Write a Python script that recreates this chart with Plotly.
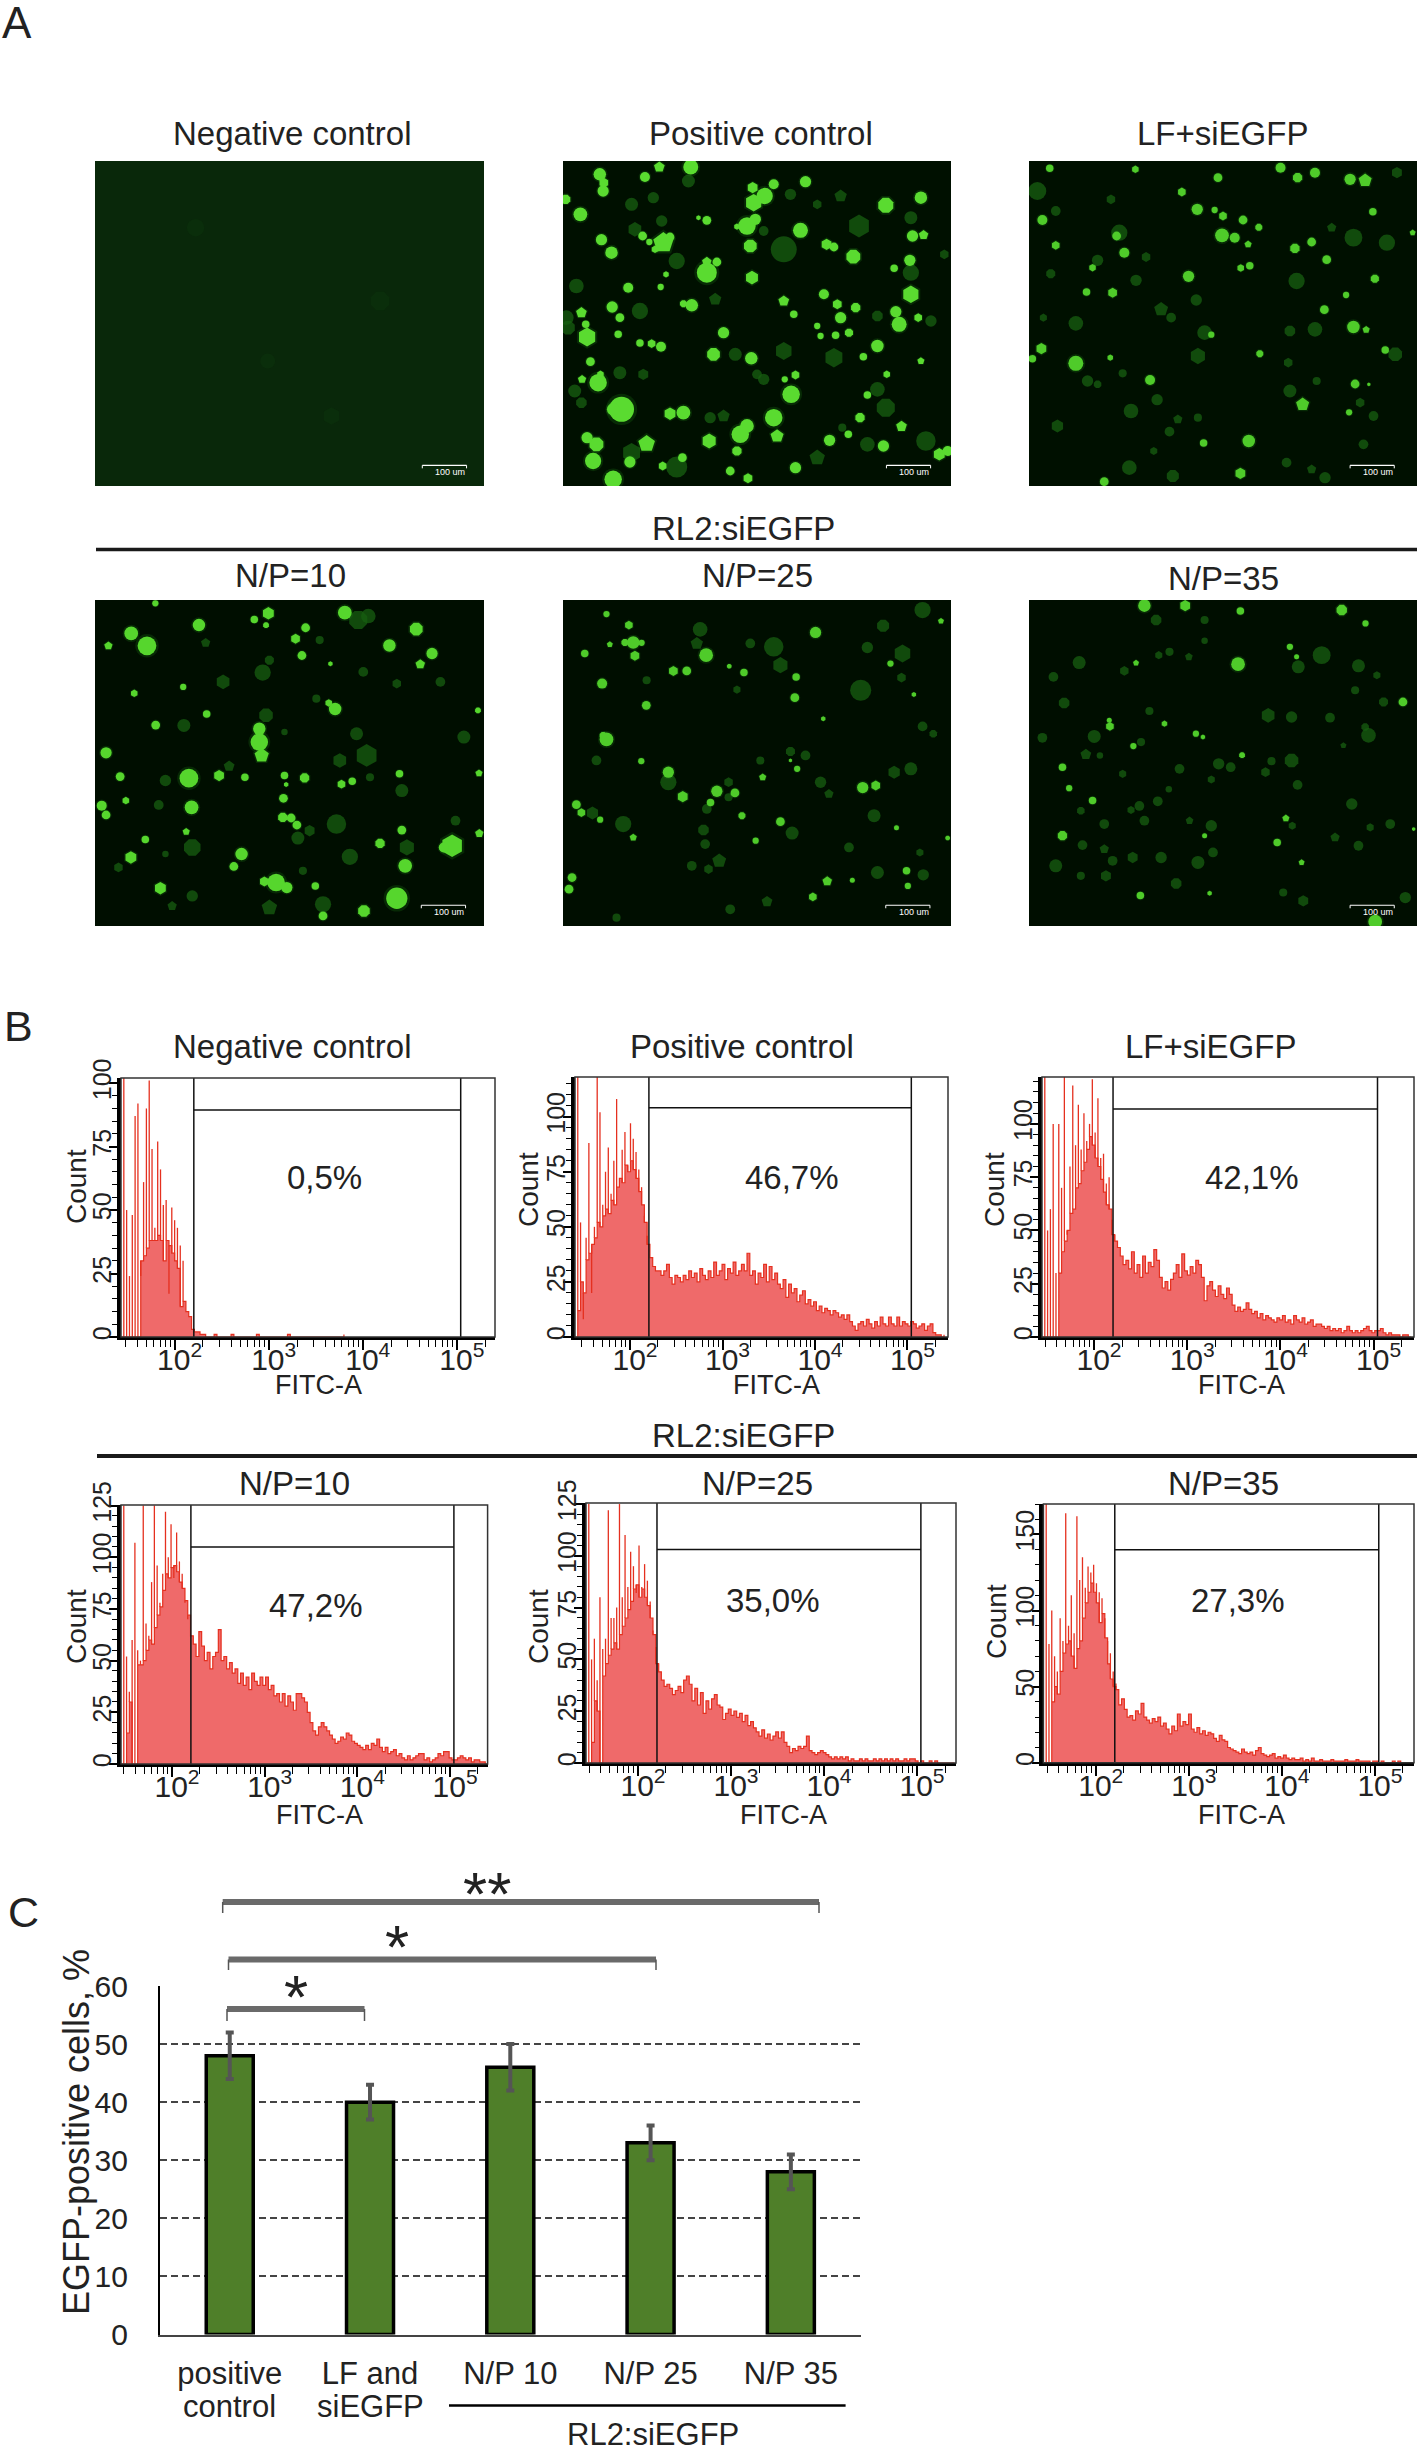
import plotly.graph_objects as go

W, H = 1417, 2452
FONT = "Liberation Sans"
TXT = "#222222"
CELL_SCALE = 1.25
CELL_SYMBOLS = ["circle", "hexagon", "circle", "octagon", "circle", "circle", "pentagon", "circle", "hexagon", "circle"]

NEG_DIM = [(515, 600, 12), (705, 765, 14), (300, 200, 14), (850, 420, 16)]

POS_BRIGHT = [(110,40,10),(122,65,8),(120,90,9),(8,115,8),(52,160,11),(245,48,8),(288,18,9),(382,18,12),(567,80,9),(725,62,9),
    (603,105,13),(570,125,14),(630,70,8),(965,133,13),(1070,110,10),(1045,225,9),(1078,222,8),(430,178,7),(405,170,4),(550,195,14),
    (575,175,9),(520,197,5),(710,208,12),(560,255,11),(115,236,9),(145,275,10),(300,245,17),(320,228,7),(275,265,6),(238,225,7),
    (258,243,5),(788,250,9),(810,258,7),(868,287,12),(1037,298,9),(430,335,16),(430,302,8),(460,303,7),(565,350,11),(195,380,8),
    (292,378,5),(308,340,5),(385,433,10),(360,428,6),(147,438,9),(170,470,7),(55,455,9),(68,490,6),(72,528,15),(165,520,6),
    (230,546,6),(265,548,7),(293,557,8),(450,580,11),(563,592,10),(82,602,7),(57,655,7),(105,665,14),(112,640,6),(175,745,20),
    (150,745,10),(320,758,10),(360,755,11),(100,850,12),(72,830,9),(90,900,13),(250,848,14),(200,903,9),(298,915,7),(357,890,7),
    (150,955,14),(437,840,12),(530,820,14),(520,870,8),(550,795,11),(630,770,14),(640,825,11),(500,930,7),(553,952,8),(695,920,9),
    (682,700,14),(695,642,7),(663,655,5),(888,770,8),(797,838,9),(853,820,6),(1012,796,9),(958,855,9),(1125,880,10),(1150,870,8),
    (780,400,8),(820,430,8),(830,470,9),(875,440,8),(760,495,5),(770,525,5),(660,420,9),(690,460,6),(1040,400,14),(995,452,9),
    (1005,490,12),(1062,470,7),(940,555,10),(855,515,7),(815,523,6),(480,515,9),(1070,600,6),(898,587,6),(968,640,6),(910,702,6),(990,322,6)]
POS_DIM = [(660,265,16),(885,195,14),(40,375,9),(15,500,9),(230,450,10),(340,300,10),(455,415,8),(600,210,6),(660,570,11),(515,580,8),
    (600,655,7),(810,590,12),(940,685,9),(965,740,12),(1085,840,12),(835,800,5),(760,890,10),(340,918,13),(205,875,12),(440,770,7),
    (170,635,8),(240,640,7),(35,690,8),(55,725,7),(295,180,7),(205,130,8),(830,105,8),(1040,170,8),(760,130,6),(680,100,7),
    (375,60,8),(1140,280,6),(1100,480,7),(940,465,7),(1040,335,10),(580,640,6),(480,765,8),(270,110,7),(215,205,9),(10,470,9),(910,850,9)]

LF_BRIGHT = [(62,22,6),(318,25,6),(752,20,8),(803,50,8),(855,35,8),(960,55,9),(1005,58,11),(565,50,7),(457,93,7),(503,145,9),
    (555,147,5),(580,165,7),(640,177,7),(687,199,6),(577,223,11),(615,230,8),(655,250,6),(40,177,8),(80,253,7),(262,225,7),
    (285,275,8),(190,320,6),(845,243,7),(795,262,8),(890,296,7),(1028,152,6),(1147,215,5),(660,314,6),(633,321,6),(477,346,9),
    (172,393,6),(250,395,8),(948,402,5),(1034,353,7),(883,446,7),(970,498,10),(1008,506,6),(545,521,5),(37,563,9),(10,593,6),
    (140,607,12),(243,590,5),(362,657,8),(690,578,6),(1065,567,6),(975,669,7),(818,730,11),(957,754,5),(1016,670,3),(657,840,10),
    (522,846,6),(632,937,9),(225,962,7)]
LF_DIM = [(270,215,10),(350,288,6),(205,298,7),(65,338,6),(320,358,7),(500,417,7),(395,445,9),(425,470,6),(43,470,5),(140,487,9),
    (525,515,9),(505,585,10),(175,660,7),(205,670,5),(280,637,5),(383,716,7),(445,775,6),(505,770,5),(85,795,8),(305,750,9),
    (420,812,6),(373,870,5),(300,920,9),(430,945,8),(770,905,6),(885,950,7),(845,925,6),(1030,765,6),(990,725,6),(780,690,8),
    (860,660,5),(775,605,6),(855,505,9),(780,510,7),(1070,245,10),(970,230,11),(905,200,6),(800,360,10),(1100,35,7),(25,90,11),
    (80,150,6),(245,115,6),(1000,850,6),(1095,580,9)]

N10_BRIGHT = [(180,10,5),(517,40,10),(475,58,6),(510,75,5),(108,100,11),(310,75,10),(40,137,7),(155,137,15),(598,116,8),(628,83,7),
    (617,166,7),(702,191,4),(745,38,11),(958,87,11),(878,136,10),(1005,160,9),(970,192,8),(263,260,5),(117,279,6),(333,341,6),
    (181,374,7),(697,308,6),(716,326,10),(1142,330,5),(490,385,10),(490,425,14),(497,465,12),(565,525,6),(570,552,4),(33,457,9),
    (280,533,15),(370,525,9),(447,530,6),(625,532,8),(75,528,7),(908,520,6),(1145,518,6),(767,542,6),(735,551,7),(20,615,8),
    (33,643,7),(92,600,6),(288,620,11),(560,650,8),(585,652,7),(602,673,7),(272,693,6),(150,716,6),(107,770,10),(437,760,10),
    (414,797,7),(1065,735,18),(1040,740,8),(850,728,8),(915,688,7),(925,795,11),(1146,698,7),(540,845,14),(505,842,8),(572,860,9),
    (657,855,6),(195,862,10),(900,892,17),(802,930,10),(680,945,7),(562,593,7)]
N10_DIM = [(500,217,10),(382,245,9),(265,375,8),(290,740,11),(210,540,7),(190,613,6),(400,497,7),(720,670,12),(640,690,7),(605,712,8),
    (760,768,10),(810,465,14),(780,400,8),(510,345,9),(680,910,10),(290,885,7),(230,915,6),(620,810,5),(730,480,9),(915,570,8),
    (1030,245,6),(900,250,6),(800,215,6),(785,60,12),(815,48,9),(670,120,5),(330,128,6),(1100,410,8),(930,740,10),(1075,660,6),
    (820,530,5),(70,800,6),(210,760,4),(520,180,6),(660,295,5),(565,395,4),(520,920,10)]

N25_BRIGHT = [(130,42,5),(197,75,7),(210,127,10),(185,127,6),(235,128,5),(65,160,6),(140,133,5),(117,250,8),(215,167,8),(428,165,11),
    (755,97,9),(330,212,8),(370,212,7),(497,198,4),(541,217,6),(697,230,6),(1130,63,5),(979,190,5),(1049,283,4),(693,292,7),
    (249,315,7),(778,355,4),(130,417,11),(120,405,6),(234,482,5),(315,515,9),(597,530,6),(460,572,9),(358,588,9),(441,606,6),
    (514,577,7),(55,636,7),(111,657,5),(535,645,6),(650,663,7),(576,720,5),(210,710,6),(896,561,9),(935,555,8),(27,830,7),
    (18,865,7),(747,888,7),(1027,810,6),(1150,712,4),(997,681,4),(865,838,4),(790,841,8),(700,505,5),(680,480,3),(40,612,7),(1031,855,5)]
N25_DIM = [(890,270,13),(1015,160,11),(1075,30,10),(957,77,8),(910,142,7),(410,88,9),(400,130,8),(630,140,12),(650,195,10),(560,130,6),
    (250,240,5),(520,268,5),(100,480,6),(680,453,6),(725,465,6),(770,545,7),(795,580,6),(315,545,10),(495,545,6),(495,590,5),
    (430,625,6),(88,637,8),(180,670,10),(420,688,7),(425,730,6),(685,697,8),(467,780,9),(385,795,6),(435,805,6),(930,645,8),
    (1040,505,8),(990,515,8),(1075,378,6),(1107,400,5),(940,815,8),(1077,822,7),(610,902,7),(500,925,6),(1067,755,5),(590,480,5),
    (855,740,6),(1012,232,6),(160,950,5)]

N35_BRIGHT = [(345,17,10),(467,17,9),(632,33,6),(935,30,9),(1006,70,5),(625,192,11),(320,188,5),(1118,305,7),(242,378,7),(240,360,4),
    (499,400,5),(520,410,4),(190,600,6),(100,705,8),(742,725,6),(525,705,4),(815,785,5),(1035,962,11),(1150,685,3),(780,140,5),(800,170,4),
    (405,370,5),(312,437,5),(637,464,5),(100,500,6),(120,563,5),(768,653,6),(333,884,6),(540,877,4)]
N35_DIM = [(150,187,8),(285,212,6),(73,230,6),(105,308,7),(360,332,5),(195,408,8),(170,462,7),(40,412,6),(280,520,5),(385,602,6),
    (330,616,6),(305,628,5),(345,660,6),(155,630,5),(225,670,6),(160,733,6),(225,745,6),(250,780,6),(310,770,7),(80,795,8),
    (155,825,5),(230,825,7),(395,770,7),(440,848,7),(505,785,8),(550,755,6),(480,660,5),(450,505,6),(545,537,5),(567,490,7),
    (603,500,6),(707,515,6),(725,482,5),(785,480,9),(803,553,6),(965,610,7),(915,710,6),(785,350,7),(715,345,9),(875,165,11),
    (985,197,8),(1040,225,5),(975,270,5),(1060,305,6),(900,352,6),(1015,405,9),(940,435,4),(1080,670,6),(1020,680,5),(985,735,6),
    (1125,890,7),(820,900,7),(760,875,5),(380,60,7),(525,60,5),(525,122,4),(478,170,5),(420,155,5),(388,165,5),(335,425,5),
    (545,675,7),(787,675,5),(805,200,8),(1005,380,5),(418,566,4),(212,465,4)]

# ---- panel B: histogram counts in bins of 0.03 decade
BIN_WIDTH = 0.03
NEG_BODY = [0,0,0,0,0,0,0,30,32,35,38,38,38,40,38,30,38,36,33,30,27,12,14,10,8,3,2,2,1,1,
    0,0,0,1,0,0,0,0,0,1,0,0,0,0,0,0,0,0,1,0,0,0,0,0,0,0,0,0,0,1,0,0,0,0,0,0,0,0,0,0,0,0,0,0,0,0,0,0,0,1]
NEG_SPIKES = [0,102,50,24,48,87,92,24,61,90,101,74,43,77,66,52,54,17,51,46,43,36,30]
POS_BODY = [0,12,25,20,35,38,42,45,52,50, 55,58,56,62,60,68,72,70,78,75, 80,76,72,66,60,52,42,36,32,30,
    30,28,30,33,27,24,28,27,25,28, 26,30,27,29,25,31,28,26,30,27, 34,28,30,33,26,31,29,34,28,30,
    33,30,38,28,30,24,29,27,33,25, 32,26,29,24,22,26,18,24,20,22, 16,19,21,15,17,14,16,12,14,11,
    13,12,10,12,11,9,10,8,10,7, 5,3,6,7,5,8,6,4,7,5, 9,6,5,9,6,5,9,5,7,6, 5,7,6,4,5,6,3,5,6,2, 1,1,0,1]
POS_SPIKES = [0,120,52,8,45,88,20,50,120,102,60,75,86,65,80,108,72,85,93,78,97,90,84,76,68,55,46]
LF_BODY = [0,0,0,0,0,0,30,40,45,50, 58,60,70,72,78,82,88,94,90,84, 80,74,68,62,60,48,45,42,38,34,
    36,32,40,30,34,28,38,30,35,33, 41,36,28,23,26,22,27,30,34,28, 39,31,29,33,30,36,34,28,17,24,
    26,22,19,24,20,18,23,20,15,12, 14,12,13,16,13,11,12,9,11,8, 10,9,8,7,9,8,10,7,8,6,
    10,8,7,9,6,7,8,5,6,6, 5,4,5,3,4,3,4,2,3,5, 3,2,3,2,3,4,5,3,2,3, 3,4,2,1,2,1,1,1,0,1, 1,0,0]
LF_SPIKES = [0,122,50,60,100,30,100,70,122,48,80,118,90,109,88,105,92,100,121,96,112,84,86,72,75,55,48]
N10_BODY = [0,0,15,30,0,0,48,48,50,55, 60,58,66,72,76,84,92,90,95,96, 93,88,85,79,72,62,58,52,64,57,
    50,54,46,52,54,65,50,52,46,49, 44,46,39,44,38,42,36,44,40,38, 42,38,42,36,38,33,34,30,34,28,
    33,30,26,34,34,32,30,25,20,16, 14,18,20,18,16,14,12,10,11,13, 12,15,14,11,10,9,8,7,9,7,
    10,9,12,8,6,8,5,6,7,4, 5,3,2,4,2,3,4,5,5,2, 3,1,2,3,5,4,6,6,3,2, 2,3,4,3,2,3,1,2,2,1, 1,0,0]
N10_SPIKES = [0,125,52,35,60,107,55,50,125,68,62,88,125,96,78,92,122,100,116,90,112,98,92,78,70,62,58]
N25_BODY = [0,0,10,30,25,0,42,48,52,55, 58,55,62,66,70,74,78,84,86,80, 84,80,76,70,62,48,44,40,37,38,
    36,33,35,37,34,40,42,38,30,36, 28,34,24,30,26,31,33,28,27,21, 24,26,23,25,22,24,20,23,18,20,
    17,15,13,16,12,14,11,13,15,12, 15,10,8,5,7,6,8,7,8,13, 6,5,4,5,6,5,4,3,2,3,
    2,3,2,3,1,2,1,1,2,1, 2,1,1,2,1,2,1,2,1,2, 1,2,1,1,2,1,2,2,1,0, 1,0,0,1,0,1,0,0,0,0, 0,0,0]
N25_SPIKES = [0,125,50,60,40,80,55,60,122,70,70,75,125,80,110,85,102,95,82,105,85,96,88,78,64,56,48]
N35_BODY = [0,0,0,40,50,45,60,72,78,80, 70,62,75,80,95,105,112,118,112,105, 92,98,82,65,55,50,48,38,42,35,
    30,31,28,34,32,39,30,28,26,29, 27,30,24,26,22,19,24,21,32,24, 27,25,32,22,20,23,19,21,18,20,
    19,16,14,18,15,14,10,9,8,7, 6,9,7,6,7,5,8,10,6,5, 4,5,6,3,4,3,5,3,2,3,
    2,2,3,1,2,1,3,1,1,2, 1,1,1,2,1,1,1,1,2,1, 1,1,2,1,1,1,1,0,1,1, 0,1,0,0,0,1,0,1,0,0, 0,0,0]
N35_SPIKES = [0,170,78,100,70,60,95,80,164,90,110,85,162,120,135,115,129,125,130,118,112,108,95,80,72,60,52]

DECADES = [100, 1000, 10000, 100000]
DECADE_LABELS = ["10<sup>2</sup>", "10<sup>3</sup>", "10<sup>4</sup>", "10<sup>5</sup>"]
MINOR_TICKS = [30,40,50,60,70,80,90, 200,300,400,500,600,700,800,900, 2000,3000,4000,5000,6000,7000,8000,9000,
    20000,30000,40000,50000,60000,70000,80000,90000, 200000]
GATE_LOW = 160
GATE_HIGH = 110000
GATE_HEIGHTS = [89.4, 104, 107, 105, 103, 140]
PERCENTS = ["0,5%", "46,7%", "42,1%", "47,2%", "35,0%", "27,3%"]
HIST_TITLES = ["Negative control", "Positive control", "LF+siEGFP", "N/P=10", "N/P=25", "N/P=35"]

# ---- panel C
CATEGORIES = ["positive control", "LF and siEGFP", "N/P 10", "N/P 25", "N/P 35"]
LINE_ONE = ["positive", "LF and", "N/P 10", "N/P 25", "N/P 35"]
LINE_TWO = ["control", "siEGFP", "", "", ""]
EGFP_POSITIVE = [48, 40, 46, 33, 28]
EGFP_ERROR = [4, 3, 4, 3, 3]


def px(x):
    return x / W


def py(y):
    return 1 - y / H


fig = go.Figure()
layout = {}
notes = []
shapes = []


def text(x, y, s, size=33, angle=0, xanchor="center", color=TXT):
    notes.append(dict(x=px(x), y=py(y), xref="paper", yref="paper", text=s, showarrow=False, textangle=angle,
                      font=dict(family=FONT, size=size, color=color), xanchor=xanchor, yanchor="middle"))


def cells(k, pts, color, opacity=1.0, scale=CELL_SCALE):
    symbols = [CELL_SYMBOLS[n % len(CELL_SYMBOLS)] for n in range(len(pts))]
    fig.add_trace(go.Scatter(x=[p[0] for p in pts], y=[p[1] for p in pts], mode="markers", xaxis=f"x{k}", yaxis=f"y{k}",
                             marker=dict(size=[p[2] * scale for p in pts], symbol=symbols, color=color, opacity=opacity, line=dict(width=0))))


# micrographs
images = [
    (95, 484, 161, 486, "#09280A", NEG_DIM, [], "#0C320B", 976),
    (563, 951, 161, 486, "#001000", POS_DIM, POS_BRIGHT, "#5ADB30", 967),
    (1029, 1417, 161, 486, "#001000", LF_DIM, LF_BRIGHT, "#4FCB2A", 960),
    (95, 484, 600, 926, "#000E00", N10_DIM, N10_BRIGHT, "#56D62D", 973),
    (563, 951, 600, 926, "#000E00", N25_DIM, N25_BRIGHT, "#4FCB2A", 965),
    (1029, 1417, 600, 926, "#000E00", N35_DIM, N35_BRIGHT, "#4FCB2A", 960),
]
for i, (x0, x1, y0, y1, bg, dim, bright, col, bar) in enumerate(images):
    k = i + 2
    layout[f"xaxis{k}"] = dict(domain=[px(x0), px(x1)], range=[0, 1160], visible=False, anchor=f"y{k}")
    layout[f"yaxis{k}"] = dict(domain=[py(y1), py(y0)], range=[975, 0], visible=False, anchor=f"x{k}")
    shapes.append(dict(type="rect", xref=f"x{k} domain", yref=f"y{k} domain", x0=0, x1=1, y0=0, y1=1,
                       fillcolor=bg, line=dict(width=0), layer="below"))
    if bright:
        # the dim cells go under the bright ones, larger and soft
        cells(k, dim, "#175F10", 0.75, CELL_SCALE * 1.3)
        cells(k, bright, "#1C7A14", 0.25, CELL_SCALE * 1.25)
        cells(k, bright, col, 1)
    else:
        cells(k, dim, "#0C320B", 0.6)
    shapes.append(dict(type="line", xref=f"x{k}", yref=f"y{k}", x0=bar, x1=bar + 132, y0=913, y1=913, line=dict(color="white", width=1.2)))
    shapes.append(dict(type="line", xref=f"x{k}", yref=f"y{k}", x0=bar, x1=bar, y0=913, y1=922, line=dict(color="white", width=1)))
    shapes.append(dict(type="line", xref=f"x{k}", yref=f"y{k}", x0=bar + 132, x1=bar + 132, y0=913, y1=922, line=dict(color="white", width=1)))
    notes.append(dict(x=bar + 83, y=934, xref=f"x{k}", yref=f"y{k}", text="100 um", showarrow=False,
                      font=dict(family=FONT, size=9, color="white")))

text(0, 22, "A", size=44, xanchor="left")
text(292, 133, "Negative control")
text(761, 133, "Positive control")
text(1222, 133, "LF+siEGFP")
text(743, 528, "RL2:siEGFP")
text(290, 575, "N/P=10")
text(757, 575, "N/P=25")
text(1223, 578, "N/P=35")
shapes.append(dict(type="line", xref="paper", yref="paper", x0=px(96), x1=1, y0=py(549.5), y1=py(549.5), line=dict(color="#1a1a1a", width=3.5)))

# histograms: x0, x1, ytop, ybase, left decade, right decade, ymax, yticks, body, spikes
hists = [
    (121, 495, 1078, 1337, 1.43, 5.406, 102, [0, 25, 50, 75, 100], NEG_BODY, NEG_SPIKES),
    (575, 948, 1077, 1337, 1.405, 5.438, 118, [0, 25, 50, 75, 100], POS_BODY, POS_SPIKES),
    (1042, 1414, 1077, 1337, 1.442, 5.433, 122, [0, 25, 50, 75, 100], LF_BODY, LF_SPIKES),
    (121, 487.6, 1505, 1764, 1.45, 5.405, 125.3, [0, 25, 50, 75, 100, 125], N10_BODY, N10_SPIKES),
    (586, 956, 1503, 1763, 1.441, 5.419, 125.5, [0, 25, 50, 75, 100, 125], N25_BODY, N25_SPIKES),
    (1043.4, 1414, 1504, 1762.7, 1.437, 5.42, 170, [0, 50, 100, 150], N35_BODY, N35_SPIKES),
]
count_pos = [(76, 1187), (528, 1190), (994, 1190), (76, 1627), (538, 1627), (996, 1622)]
fitc_pos = [(318, 1385), (776, 1385), (1241, 1385), (319, 1815), (783.6, 1815), (1241, 1815)]
title_pos = [(292, 1047), (742, 1047), (1210, 1047), (294, 1483), (757, 1483), (1223, 1483)]
pct_pos = [(324, 1177), (792, 1177), (1252, 1177), (316, 1605), (773, 1600), (1238, 1600)]

for i, (x0, x1, top, base, lo, hi, ymax, yt, body, spikes) in enumerate(hists):
    k = i + 8
    layout[f"xaxis{k}"] = dict(domain=[px(x0), px(x1)], type="log", range=[lo, hi], anchor=f"y{k}", showgrid=False, zeroline=False,
                               showline=True, linecolor="black", linewidth=3, ticks="outside", ticklen=10, tickwidth=1.5, tickcolor="black",
                               tickmode="array", tickvals=DECADES, ticktext=DECADE_LABELS, ticklabelshift=5, ticklabelstandoff=-16,
                               tickfont=dict(family=FONT, size=30, color=TXT), layer="above traces",
                               minor=dict(ticks="outside", ticklen=7, tickwidth=1.2, tickcolor="black", tickmode="array", tickvals=MINOR_TICKS))
    minor_step = 5 if ymax < 130 else 10
    layout[f"yaxis{k}"] = dict(domain=[py(base), py(top)], range=[0, ymax], anchor=f"x{k}", showgrid=False, zeroline=False,
                               showline=True, linecolor="black", linewidth=3.5, ticks="outside", ticklen=8, tickwidth=1.5, tickcolor="black",
                               tickmode="array", tickvals=yt, tickangle=-90, ticklabelstandoff=-12,
                               tickfont=dict(family=FONT, size=25, color=TXT), layer="above traces",
                               minor=dict(ticks="outside", ticklen=5, tickwidth=1.2, tickcolor="black", dtick=minor_step))
    xs = [10 ** (lo + BIN_WIDTH * b) for b in range(len(body))]
    fig.add_trace(go.Scatter(x=xs, y=body, mode="lines", line=dict(color="#E5301F", width=1.2, shape="hv"), fill="tozeroy",
                             fillcolor="#EF6A6A", xaxis=f"x{k}", yaxis=f"y{k}"))
    # the tall thin spikes of the low channels, one stick per bin, standing on the filled body
    stick_x, stick_y = [], []
    for x, b, v in zip(xs, body, spikes):
        stick_x += [x, x, None]
        stick_y += [b, v, None]
    fig.add_trace(go.Scatter(x=stick_x, y=stick_y, mode="lines", line=dict(color="#E5301F", width=1.3), xaxis=f"x{k}", yaxis=f"y{k}"))
    # gate and frame
    g = GATE_HEIGHTS[i]
    fig.add_trace(go.Scatter(x=[GATE_LOW, GATE_LOW, None, GATE_HIGH, GATE_HIGH, None, GATE_LOW, GATE_HIGH],
                             y=[0, ymax, None, 0, ymax, None, g, g], mode="lines", line=dict(color="#111111", width=1.5),
                             xaxis=f"x{k}", yaxis=f"y{k}"))
    shapes.append(dict(type="rect", xref=f"x{k} domain", yref=f"y{k} domain", x0=0, x1=1, y0=0, y1=1,
                       line=dict(color="#333333", width=1.5), layer="above"))
    text(count_pos[i][0], count_pos[i][1], "Count", size=28, angle=-90)
    text(fitc_pos[i][0], fitc_pos[i][1], "FITC-A", size=27)
    text(title_pos[i][0], title_pos[i][1], HIST_TITLES[i])
    text(pct_pos[i][0], pct_pos[i][1], PERCENTS[i], size=33)

text(2, 1026, "B", size=43, xanchor="left")
text(743, 1435, "RL2:siEGFP")
shapes.append(dict(type="line", xref="paper", yref="paper", x0=px(97), x1=1, y0=py(1456), y1=py(1456), line=dict(color="#1a1a1a", width=4)))

# bars
layout["xaxis14"] = dict(domain=[px(159.6), px(861)], anchor="y14", type="category", showgrid=False, showline=True, linecolor="#444444",
                         linewidth=2, ticks="", tickmode="array", tickvals=CATEGORIES, ticktext=LINE_ONE, ticklabelstandoff=10,
                         tickfont=dict(family=FONT, size=31, color=TXT), range=[-0.5, 4.5])
layout["yaxis14"] = dict(domain=[py(2334.5), py(1986)], anchor="x14", range=[0, 60], showline=True, linecolor="black", linewidth=1.5,
                         tickmode="array", tickvals=[0, 10, 20, 30, 40, 50, 60], showgrid=True, gridcolor="#444444", gridwidth=2,
                         griddash="7px,4px", zeroline=False, ticks="", ticklabelstandoff=24, tickfont=dict(family=FONT, size=30, color=TXT))
fig.add_trace(go.Bar(x=CATEGORIES, y=EGFP_POSITIVE, width=0.335, xaxis="x14", yaxis="y14",
                     marker=dict(color="#4F7F29", line=dict(color="black", width=3.5)),
                     error_y=dict(type="data", array=EGFP_ERROR, color="#555555", thickness=4, width=4)))
for cat, second in zip(CATEGORIES, LINE_TWO):
    if second:
        notes.append(dict(x=cat, y=py(2406.6), xref="x14", yref="paper", text=second, showarrow=False, yanchor="middle",
                          font=dict(family=FONT, size=31, color=TXT)))

text(652.7, 2434, "RL2:siEGFP", size=31)
text(6, 1912, "C", size=43, xanchor="left")
text(76, 2132, "EGFP-positive cells, %", size=36, angle=-90)
shapes.append(dict(type="line", xref="paper", yref="paper", x0=px(449), x1=px(845.6), y0=py(2405.5), y1=py(2405.5), line=dict(color="black", width=2.5)))

# significance brackets
for xa, xb, yb, ye, star, xs, ys in [(222.7, 819, 1902, 1913, "**", 487, 1893), (228.5, 656, 1959.5, 1970, "*", 397, 1946), (227, 364.5, 2009, 2021, "*", 295.6, 1996)]:
    shapes.append(dict(type="line", xref="paper", yref="paper", x0=px(xa), x1=px(xb), y0=py(yb), y1=py(yb), line=dict(color="#6A6A6A", width=6)))
    for xe in (xa, xb):
        shapes.append(dict(type="line", xref="paper", yref="paper", x0=px(xe), x1=px(xe), y0=py(yb), y1=py(ye), line=dict(color="#555555", width=1.5)))
    text(xs, ys, star, size=62)

fig.update_layout(width=W, height=H, margin=dict(l=0, r=0, t=0, b=0, autoexpand=False), paper_bgcolor="white", plot_bgcolor="rgba(0,0,0,0)",
                  showlegend=False, annotations=notes, shapes=shapes, **layout)
fig.write_html("out.html", config={"displayModeBar": False}, post_script="document.body.style.margin='0';")
